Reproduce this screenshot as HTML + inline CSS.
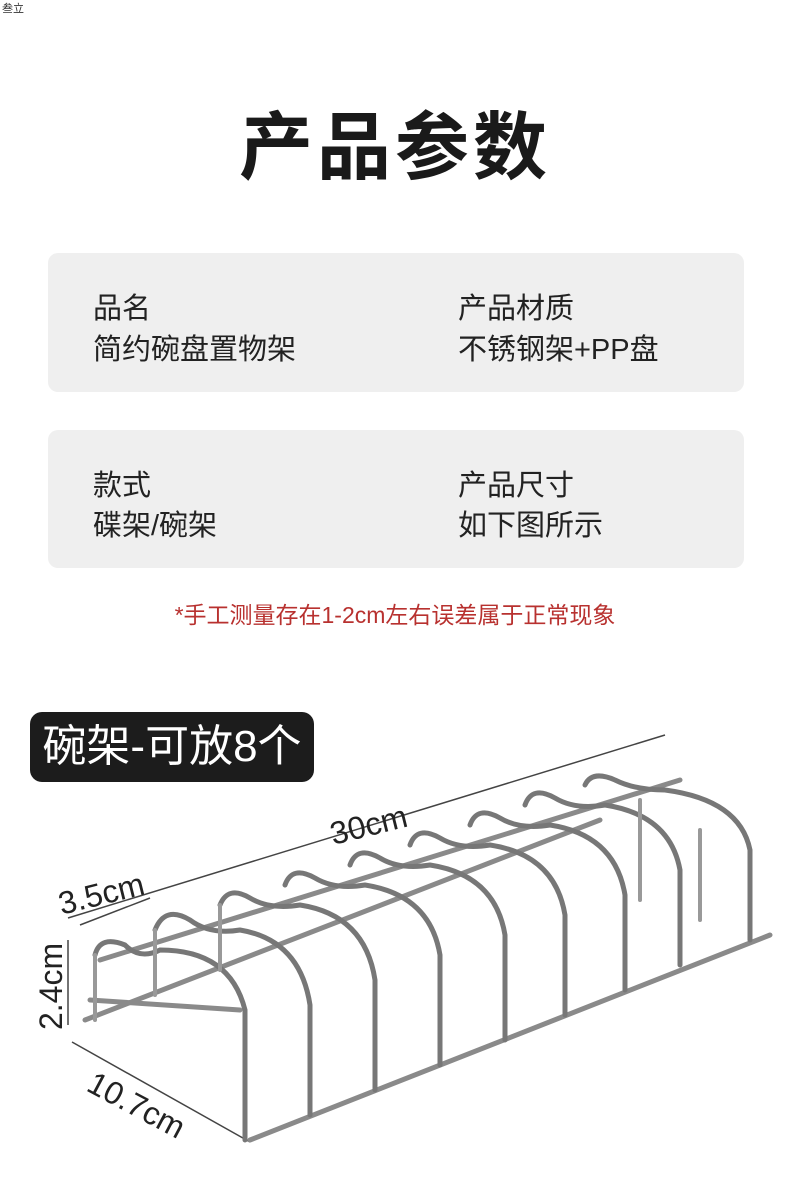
<!DOCTYPE html>
<html><head><meta charset="utf-8"><style>
body{margin:0;width:790px;height:1202px;background:#fff;position:relative;font-family:"Liberation Sans","Noto Sans CJK SC",sans-serif;overflow:hidden}
.a{position:absolute}
.box{position:absolute;left:48px;width:696px;background:#efefef;border-radius:10px}
.t{position:absolute;font-size:29px;color:#222;white-space:nowrap}
</style></head><body>
<div class="a" style="left:2px;top:0;font-size:11px;color:#333">叁立</div>
<div class="a" style="left:0;width:790px;top:88px;text-align:center;font-size:74px;font-weight:bold;color:#1a1a1a;letter-spacing:4px">产品参数</div>
<div class="box" style="top:253px;height:139px"></div>
<div class="t" style="left:93px;top:285px">品名</div>
<div class="t" style="left:93px;top:326px">简约碗盘置物架</div>
<div class="t" style="left:458px;top:285px">产品材质</div>
<div class="t" style="left:458px;top:326px">不锈钢架+PP盘</div>
<div class="box" style="top:430px;height:138px"></div>
<div class="t" style="left:93px;top:462px">款式</div>
<div class="t" style="left:93px;top:502px">碟架/碗架</div>
<div class="t" style="left:458px;top:462px">产品尺寸</div>
<div class="t" style="left:458px;top:502px">如下图所示</div>
<div class="a" style="left:0;width:790px;top:596px;text-align:center;font-size:23px;color:#b8312f">*手工测量存在1-2cm左右误差属于正常现象</div>
<div class="a" style="left:30px;top:712px;width:284px;height:70px;background:#1c1c1c;border-radius:12px;color:#fff;font-size:44px;line-height:70px;text-align:center">碗架-可放8个</div>
<svg class="a" style="left:0;top:0" width="790" height="1202">
<g stroke="#444" stroke-width="1.5" fill="none">
<line x1="68" y1="918" x2="665" y2="735"/>
<line x1="80" y1="925" x2="150" y2="898"/>
<line x1="68" y1="940" x2="68" y2="1025"/>
<line x1="72" y1="1042" x2="250" y2="1142"/>
</g>
<g font-family="Liberation Sans" font-size="32" fill="#222">
<text x="330" y="838" transform="rotate(-14 360 828)">30cm</text>
<text x="58" y="905" transform="rotate(-14 100 895)">3.5cm</text>
<text x="62" y="1030" transform="rotate(-90 62 1030)">2.4cm</text>
<text x="85" y="1090" transform="rotate(28 85 1090)">10.7cm</text>
</g>
<g fill="none" stroke-linecap="round">
<g stroke="#8a8a8a" stroke-width="5">
<line x1="250" y1="1140" x2="770" y2="935"/>
<line x1="85" y1="1020" x2="600" y2="820"/>
<line x1="100" y1="960" x2="680" y2="780"/>
<line x1="90" y1="1000" x2="240" y2="1010"/>
</g>
<g stroke="#777" stroke-width="5">
<path d="M95,955 Q100,935 125,945 Q140,960 160,950 Q230,950 245,1010 L245,1140"/>
<path d="M155,930 Q165,905 190,920 Q210,935 240,930 Q300,940 310,1005 L310,1115"/>
<path d="M220,905 Q228,885 250,898 Q270,910 300,905 Q365,915 375,980 L375,1090"/>
<path d="M285,885 Q292,865 315,878 Q335,890 365,885 Q430,895 440,955 L440,1065"/>
<path d="M350,865 Q357,845 380,858 Q400,870 430,865 Q495,875 505,935 L505,1040"/>
<path d="M410,845 Q417,825 440,838 Q460,850 490,845 Q555,855 565,915 L565,1015"/>
<path d="M470,825 Q477,805 500,818 Q520,830 550,825 Q615,835 625,895 L625,990"/>
<path d="M525,805 Q532,785 555,798 Q575,810 605,805 Q670,815 680,870 L680,965"/>
<path d="M585,785 Q592,770 615,780 Q635,790 665,790 Q740,800 750,850 L750,940"/>
</g>
<g stroke="#999" stroke-width="4">
<line x1="95" y1="955" x2="95" y2="1020"/>
<line x1="155" y1="930" x2="155" y2="995"/>
<line x1="220" y1="905" x2="220" y2="970"/>
<line x1="640" y1="800" x2="640" y2="900"/>
<line x1="700" y1="830" x2="700" y2="920"/>
</g>
</g>
</svg>
</body></html>
